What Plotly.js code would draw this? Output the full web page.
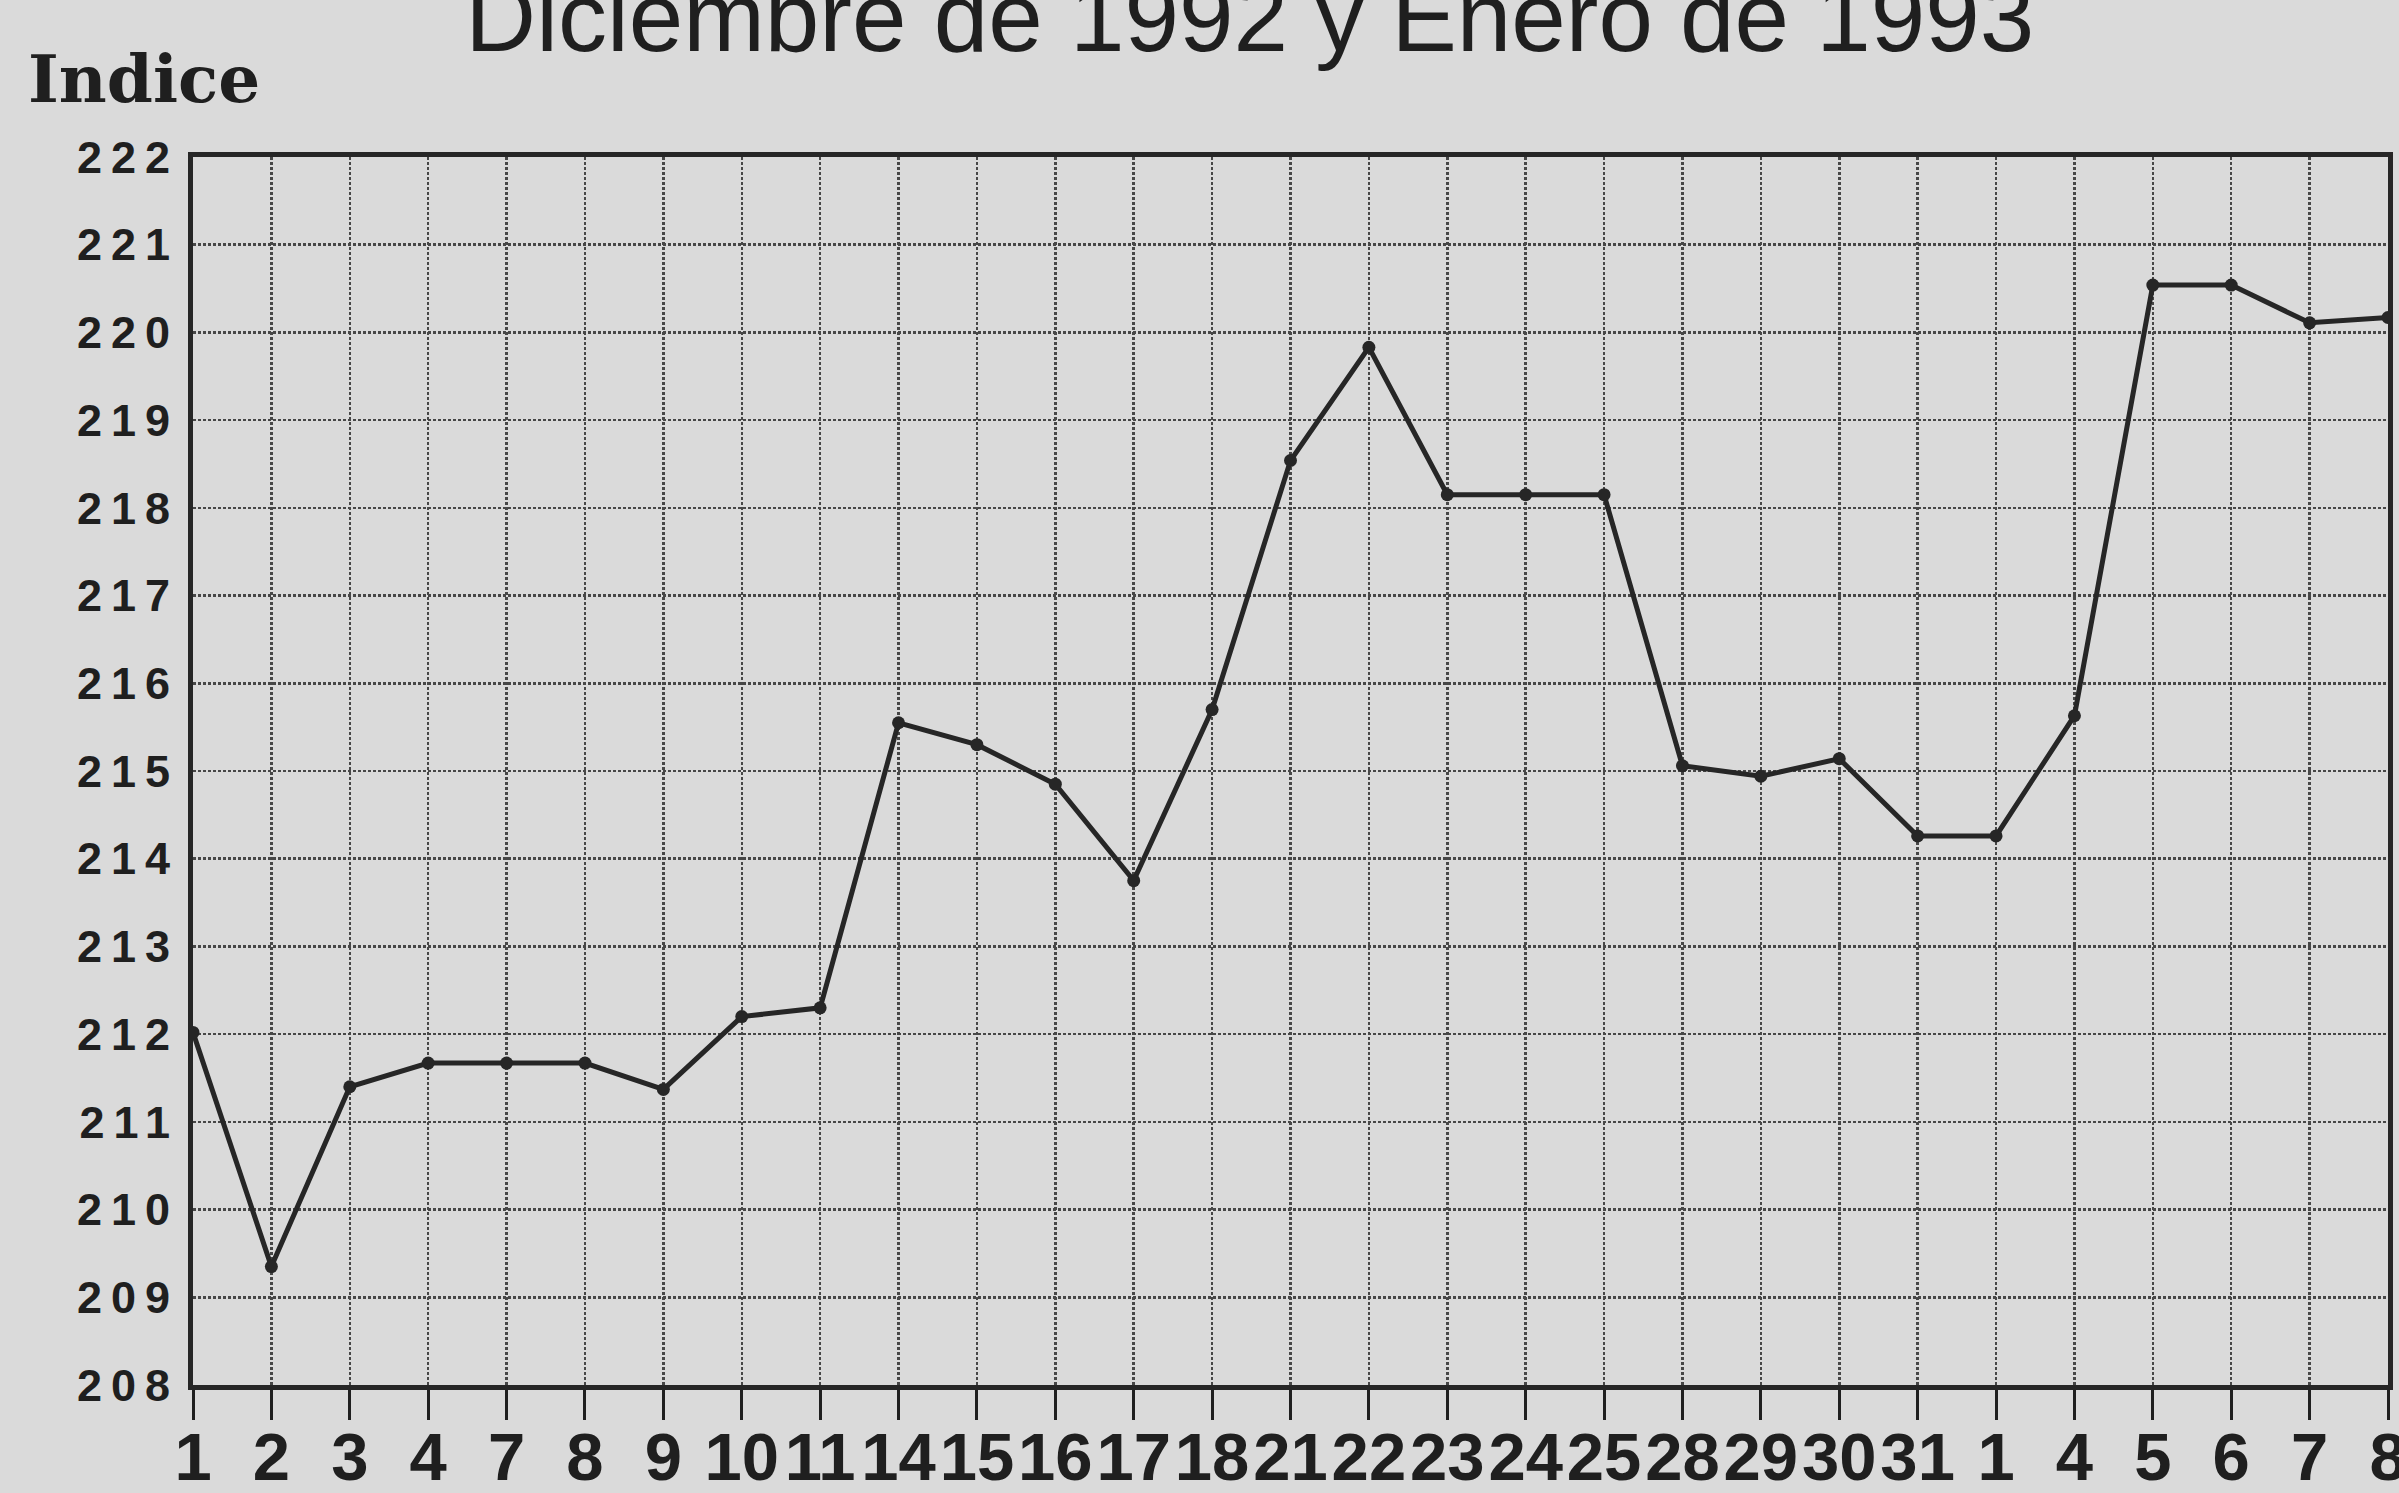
<!DOCTYPE html>
<html>
<head>
<meta charset="utf-8">
<script src="https://cdn.plot.ly/plotly-3.0.1.min.js"></script>
<style>
  html, body { margin: 0; padding: 0; background: #dadada; }
  #chart { width: 2399px; height: 1493px; }
  .ytick text { letter-spacing: 9px; }
</style>
</head>
<body>
<div id="chart"></div>
<script>
// Trading days (Dec 1992 – Jan 1993)
const dates = [
  "1992-12-01","1992-12-02","1992-12-03","1992-12-04","1992-12-07","1992-12-08","1992-12-09",
  "1992-12-10","1992-12-11","1992-12-14","1992-12-15","1992-12-16","1992-12-17","1992-12-18",
  "1992-12-21","1992-12-22","1992-12-23","1992-12-24","1992-12-25","1992-12-28","1992-12-29",
  "1992-12-30","1992-12-31","1993-01-01","1993-01-04","1993-01-05","1993-01-06","1993-01-07",
  "1993-01-08"
];
const dayLabels = ["1","2","3","4","7","8","9","10","11","14","15","16","17","18","21","22",
  "23","24","25","28","29","30","31","1","4","5","6","7","8"];
const indice = [212.02, 209.35, 211.40, 211.67, 211.67, 211.67, 211.37, 212.20, 212.30,
  215.55, 215.30, 214.85, 213.75, 215.70, 218.54, 219.83, 218.15, 218.15, 218.15,
  215.06, 214.94, 215.14, 214.26, 214.26, 215.63, 220.54, 220.54, 220.11, 220.17];
const yTicks = [208,209,210,211,212,213,214,215,216,217,218,219,220,221,222];

const ink = "#1f1f1f";
const grid = "#474747";

const trace = {
  x: dates,
  y: indice,
  type: "scatter",
  mode: "lines+markers",
  line: { color: "#262626", width: 5 },
  marker: { color: "#262626", size: 13, symbol: "circle" },
  hoverinfo: "skip"
};

const layout = {
  width: 2399,
  height: 1493,
  paper_bgcolor: "#dadada",
  plot_bgcolor: "#dadada",
  margin: { l: 193, r: 11, t: 157, b: 108, pad: 0 },
  showlegend: false,
  title: {
    text: "Diciembre de 1992 y Enero de 1993",
    font: { family: "Liberation Sans, Arial, sans-serif", size: 98, color: ink },
    xref: "container", x: 0.521, xanchor: "center",
    yref: "container", y: 0.989, yanchor: "middle"
  },
  xaxis: {
    type: "category",
    range: [0, dates.length - 1],
    tickmode: "array",
    tickvals: dates,
    ticktext: dayLabels,
    ticks: "outside",
    ticklen: 30,
    tickwidth: 3,
    tickcolor: ink,
    ticklabelstandoff: -20,
    tickfont: { family: "Liberation Sans, Arial, sans-serif", size: 67, color: ink, weight: "bold" },
    showline: true,
    mirror: true,
    linecolor: "#262626",
    linewidth: 5,
    showgrid: true,
    gridcolor: grid,
    gridwidth: 2.5,
    griddash: "3px,2px",
    zeroline: false,
    fixedrange: true
  },
  yaxis: {
    range: [208, 222],
    tickmode: "array",
    tickvals: yTicks,
    ticktext: yTicks.map(String),
    ticks: "",
    ticklabelstandoff: 0,
    tickfont: { family: "Liberation Sans, Arial, sans-serif", size: 45, color: ink, weight: "bold" },
    showline: true,
    mirror: true,
    linecolor: "#262626",
    linewidth: 5,
    showgrid: true,
    gridcolor: grid,
    gridwidth: 2.5,
    griddash: "3px,2px",
    zeroline: false,
    fixedrange: true
  },
  annotations: [{
    text: "Indice",
    xref: "paper", yref: "paper",
    x: (26 - 193) / 2195, xanchor: "left",
    y: (1385 - 79) / 1228, yanchor: "middle",
    showarrow: false,
    font: { family: "DejaVu Serif, serif", size: 66, color: ink, weight: "bold" }
  }]
};

Plotly.newPlot("chart", [trace], layout, { staticPlot: true, displayModeBar: false });
</script>
</body>
</html>
